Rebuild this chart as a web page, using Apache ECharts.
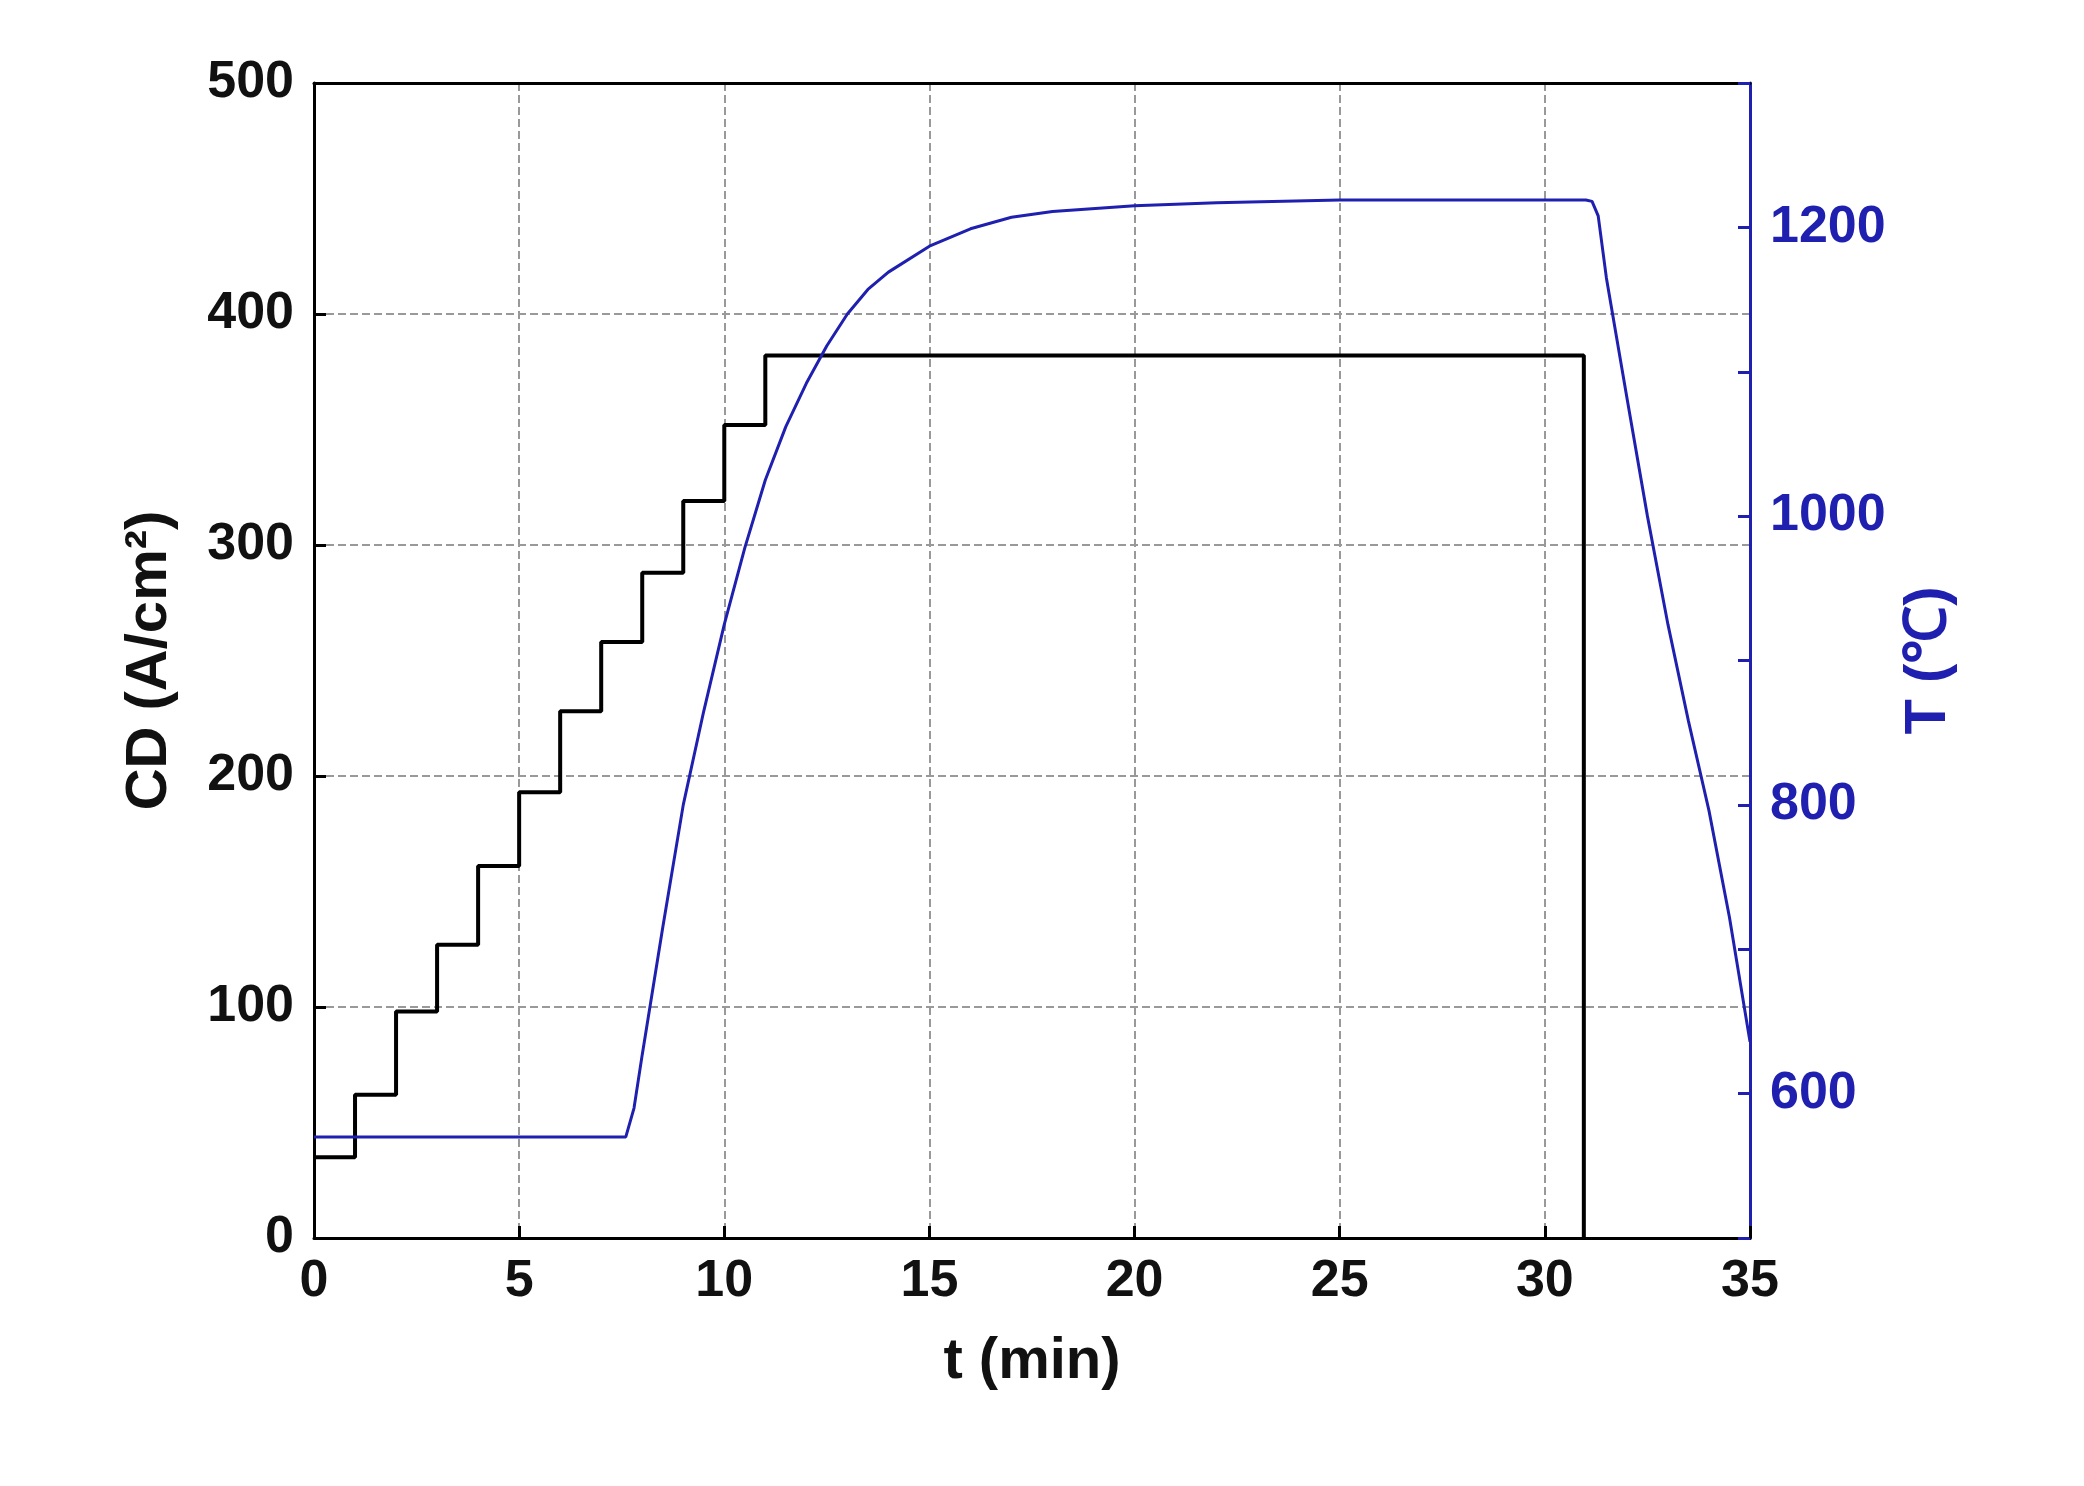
<!DOCTYPE html>
<html>
<head>
<meta charset="utf-8">
<script src="https://cdn.jsdelivr.net/npm/echarts@6/dist/echarts.min.js"></script>
<style>html,body{margin:0;background:#fff}#chart{width:2084px;height:1486px}</style>
</head>
<body>
<div id="chart"></div>
<script>
// current density steps (min, A/cm2)
var cdTimes = [0, 1, 2, 3, 4, 5, 6, 7, 8, 9, 10, 11, 30.95, 30.95];
var cdValues = [35, 62, 98, 127, 161, 193, 228, 258, 288, 319, 352, 382, 382, 0];
// temperature (min, degC)
var tTimes = [0, 7.6, 7.8, 8, 8.5, 9, 9.5, 10, 10.5, 11, 11.5, 12, 12.5, 13, 13.5, 14, 15, 16, 17, 18, 20, 22, 25, 28, 31, 31.15, 31.3, 31.5, 32, 32.5, 33, 33.5, 34, 34.5, 35];
var tValues = [570, 570, 590, 627, 715, 800, 865, 925, 978, 1025, 1062, 1092, 1118, 1140, 1157, 1169, 1187, 1199, 1207, 1211, 1215, 1217, 1219, 1219, 1219, 1218, 1208, 1165, 1082, 1000, 925, 858, 796, 722, 636];

var blue = '#2020b0';
var font = 'Liberation Sans';

var chart = echarts.init(document.getElementById('chart'));

var cdData = cdTimes.map(function (t, i) { return [t, cdValues[i]]; });
var tData = tTimes.map(function (t, i) { return [t, tValues[i]]; });

chart.setOption({
    animation: false,
    grid: {left: 314, right: 334, top: 83, bottom: 248},
    xAxis: [{
        type: 'value', min: 0, max: 35, interval: 5,
        name: 't (min)', nameLocation: 'middle', nameGap: 95,
        nameTextStyle: {fontFamily: font, fontWeight: 'bold', fontSize: 58, color: '#111'},
        axisLine: {onZero: false, lineStyle: {color: '#000', width: 3}},
        axisTick: {inside: true, length: 12, lineStyle: {color: '#000', width: 3}},
        axisLabel: {fontFamily: font, fontWeight: 'bold', fontSize: 52, color: '#111', margin: 18},
        splitLine: {show: true, lineStyle: {color: '#999', type: 'dashed', width: 2}}
    }, {
        type: 'value', min: 0, max: 35, position: 'top',
        axisLine: {show: true, onZero: false, lineStyle: {color: '#000', width: 3}},
        axisTick: {show: false}, axisLabel: {show: false}, splitLine: {show: false}
    }],
    yAxis: [{
        type: 'value', min: 0, max: 500, interval: 100, position: 'left',
        name: 'CD (A/cm²)', nameLocation: 'middle', nameGap: 135, nameRotate: 90,
        nameTextStyle: {fontFamily: font, fontWeight: 'bold', fontSize: 58, color: '#111'},
        axisLine: {show: true, onZero: false, lineStyle: {color: '#000', width: 3}},
        axisTick: {show: true, inside: true, length: 12, lineStyle: {color: '#000', width: 3}},
        axisLabel: {fontFamily: font, fontWeight: 'bold', fontSize: 52, color: '#111', margin: 20},
        splitLine: {show: true, lineStyle: {color: '#999', type: 'dashed', width: 2}}
    }, {
        type: 'value', min: 500, max: 1300, interval: 100, position: 'right',
        name: 'T (℃)', nameLocation: 'middle', nameGap: 150, nameRotate: 90,
        nameTextStyle: {fontFamily: font, fontWeight: 'bold', fontSize: 58, color: blue},
        axisLine: {show: true, onZero: false, lineStyle: {color: blue, width: 3}},
        axisTick: {show: true, inside: true, length: 12, lineStyle: {color: blue, width: 3}},
        axisLabel: {fontFamily: font, fontWeight: 'bold', fontSize: 52, color: blue, margin: 20,
            formatter: function (v) { return v % 200 === 0 ? v : ''; }},
        splitLine: {show: false}
    }],
    series: [{
        type: 'line', step: 'end', data: cdData, showSymbol: false,
        lineStyle: {color: '#000', width: 4}, xAxisIndex: 0, yAxisIndex: 0
    }, {
        type: 'line', data: tData, showSymbol: false,
        lineStyle: {color: blue, width: 3}, xAxisIndex: 0, yAxisIndex: 1
    }]
});
</script>
</body>
</html>
